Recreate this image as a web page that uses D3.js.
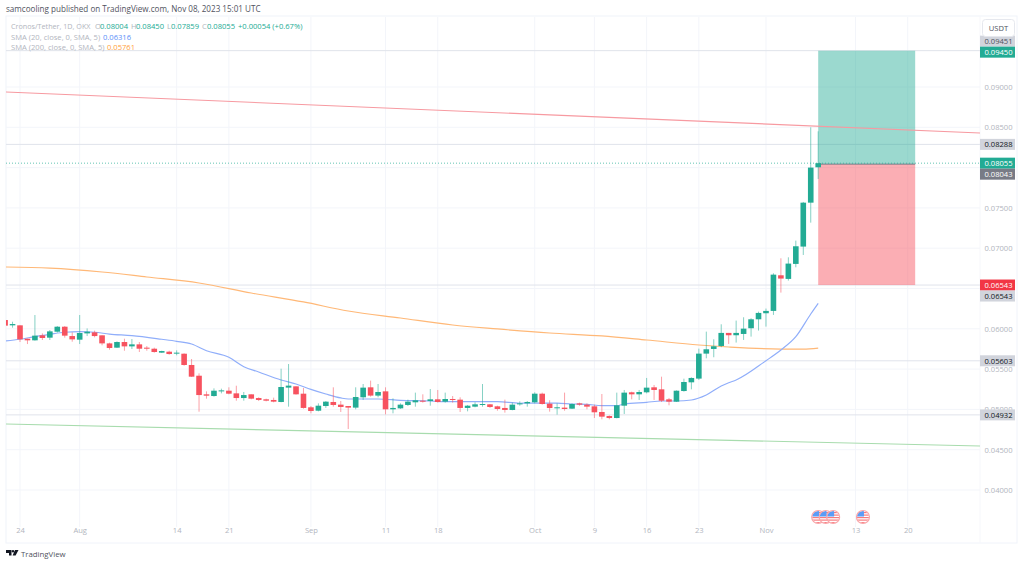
<!DOCTYPE html>
<html>
<head>
<meta charset="utf-8">
<script src="https://d3js.org/d3.v7.min.js"></script>
<style>
body { margin: 0; background: #fff; }
text { font-family: "Open Sans", sans-serif; }
</style>
</head>
<body>
<script>
// first candle is Jul 22 2023, one candle per day
var firstDay = new Date(Date.UTC(2023, 6, 22));

var opens = [
 .06109,.06043,.06043,.05877,.05857,.05919,.05890,.05964,.06026,.05910,
 .05865,.05943,.05956,.05919,.05819,.05766,.05836,.05782,.05807,.05766,
 .05753,.05704,.05716,.05695,.05691,.05551,.05418,.05187,.05166,.05224,
 .05232,.05199,.05141,.05187,.05141,.05125,.05117,.05092,.05270,.05286,
 .05195,.05026,.04984,.05042,.05092,.05059,.05042,.05022,.05150,.05274,
 .05171,.05224,.05001,.05013,.05055,.05088,.05108,.05104,.05125,.05096,
 .05129,.05121,.05018,.05034,.05055,.05063,.05038,.05018,.04993,.05067,
 .05075,.05088,.05195,.05071,.05017,.05022,.05009,.05075,.05059,.05038,
 .04968,.04918,.04893,.05046,.05212,.05187,.05212,.05274,.05249,.05125,
 .05096,.05228,.05336,.05382,.05692,.05750,.05787,.05949,.05920,.05936,
 .06007,.06118,.06193,.06222,.06664,.06619,.06805,.07020,.07565,.08004
];
var highs = [
 .06109,.06088,.06043,.05877,.06171,.05943,.05985,.06034,.06034,.05956,
 .06171,.06005,.05977,.05919,.05828,.05844,.05877,.05873,.05836,.05786,
 .05766,.05728,.05728,.05733,.05695,.05625,.05447,.05224,.05261,.05257,
 .05274,.05294,.05216,.05187,.05150,.05133,.05146,.05505,.05563,.05286,
 .05266,.05042,.05075,.05104,.05274,.05104,.05042,.05274,.05315,.05357,
 .05315,.05274,.05137,.05075,.05121,.05208,.05187,.05253,.05241,.05208,
 .05166,.05150,.05055,.05088,.05315,.05067,.05046,.05121,.05084,.05100,
 .05104,.05212,.05208,.05113,.05075,.05208,.05075,.05084,.05075,.05059,
 .05191,.04926,.05208,.05241,.05220,.05241,.05390,.05303,.05406,.05142,
 .05236,.05381,.05398,.05754,.05965,.05870,.06056,.05949,.06102,.06143,
 .06131,.06213,.06251,.06689,.06875,.06887,.07094,.07574,.08500,.08450
];
var lows = [
 .06039,.06014,.05836,.05811,.05853,.05861,.05861,.05952,.05890,.05840,
 .05811,.05910,.05894,.05795,.05741,.05762,.05728,.05749,.05712,.05728,
 .05704,.05700,.05679,.05671,.05542,.05402,.04972,.05133,.05158,.05199,
 .05187,.05108,.05108,.05125,.05104,.05100,.05088,.05088,.05034,.05183,
 .05009,.04951,.04976,.05018,.05034,.04968,.04757,.05001,.05117,.05158,
 .05150,.04939,.04951,.05005,.05042,.05034,.05084,.05046,.05084,.05084,
 .05084,.04968,.04976,.05026,.05034,.05018,.04984,.04960,.04989,.05046,
 .05034,.05075,.05059,.04972,.04935,.04984,.05005,.05046,.05001,.04893,
 .04877,.04877,.04889,.04943,.05125,.05117,.05199,.05117,.05092,.05051,
 .05092,.05220,.05249,.05366,.05634,.05647,.05771,.05812,.05829,.05862,
 .05903,.05978,.06027,.06172,.06449,.06598,.06763,.06916,.07317,.07859
];
var closes = [
 .06039,.06059,.05869,.05857,.05915,.05886,.05968,.06026,.05915,.05869,
 .05948,.05964,.05910,.05819,.05762,.05836,.05782,.05807,.05753,.05753,
 .05712,.05724,.05687,.05704,.05551,.05406,.05178,.05170,.05232,.05236,
 .05195,.05141,.05178,.05133,.05117,.05108,.05096,.05278,.05295,.05187,
 .05018,.04980,.05046,.05096,.05055,.05030,.05022,.05154,.05270,.05171,
 .05216,.05001,.05018,.05059,.05096,.05113,.05096,.05125,.05092,.05129,
 .05117,.05018,.05046,.05063,.05067,.05030,.05005,.04993,.05059,.05075,
 .05092,.05195,.05067,.05017,.05026,.05005,.05067,.05059,.05034,.04964,
 .04910,.04893,.05051,.05208,.05187,.05216,.05270,.05241,.05108,.05096,
 .05232,.05340,.05390,.05692,.05746,.05783,.05949,.05920,.05949,.06002,
 .06118,.06197,.06222,.06672,.06623,.06809,.07024,.07565,.08000,.08055
];

// SMA values at these candle indexes (0 = Jul 22)
var sma20Index = [0,2,4,6,8,10,12,14,17,21,23,25,27,30,32,34,37,39,41,43,45,46,48,50,53,57,59,63,66,69,70,74,76,78,80,82,83,86,88,90,92,94,96,97,98,102,104,106,108,109];
var sma20Values = [.05849,.05870,.05904,.05932,.05957,.05964,.05957,.05935,.05915,.05870,.05845,.05811,.05728,.05646,.05530,.05464,.05365,.05315,.05249,.05191,.05142,.05129,.05129,.05129,.05113,.05104,.05096,.05096,.05096,.05076,.05079,.05079,.05067,.05063,.05046,.05046,.05067,.05088,.05104,.05104,.05117,.05179,.05290,.05331,.05365,.05604,.05737,.05902,.06184,.06316];
var sma200Index = [0,6,13,19,26,33,40,46,53,60,66,73,80,86,93,97,104,107,109];
var sma200Values = [.06767,.06754,.06705,.06643,.06568,.06444,.06333,.06221,.06134,.06047,.05998,.05948,.05911,.05861,.05799,.05774,.05749,.05749,.05761];

// trend lines (drawn price at left and right chart edge)
var redTrend = [.08938, .08429];
var greenTrend = [.04819, .04546];

// long position tool
var targetPrice = 0.0945, entryPrice = 0.08043, stopPrice = 0.06543;
var positionEnd = new Date(Date.UTC(2023, 10, 21));
var positionStart = new Date(Date.UTC(2023, 10, 8));

var levelPrices = [0.09451, 0.08288, 0.06543, 0.05603, 0.04932];
var priceTicks = [0.09, 0.085, 0.08, 0.075, 0.07, 0.065, 0.06, 0.055, 0.05, 0.045, 0.04];
// 0.08 and 0.065 sit fully under the price labels, so only their grid lines show
var priceTickLabels = [0.09, 0.085, 0.075, 0.07, 0.06, 0.055, 0.05, 0.045, 0.04];

var timeTicks = ["2023-07-24","2023-08-01","2023-08-14","2023-08-21","2023-09-01","2023-09-11","2023-09-18","2023-10-01","2023-10-09","2023-10-16","2023-10-23","2023-11-01","2023-11-13","2023-11-20"];
var timeLabels = ["24","Aug","14","21","Sep","11","18","Oct","9","16","23","Nov","13","20"];
var eventDays = ["2023-11-08","2023-11-09","2023-11-10","2023-11-14"];

var upColor = "#22ab94", downColor = "#f7525f", gridColor = "#f3f5fa", levelColor = "#e0e3eb", axisText = "#b2b5be";

var w = 1024, h = 565;
var left = 6, right = 980, top_ = 17, paneBottom = 527, frameBottom = 543, frameRight = 1017;

var x = d3.scaleUtc()
    .domain([new Date(Date.UTC(2023, 6, 24)), new Date(Date.UTC(2023, 10, 13))])
    .range([20, 855.5]);
var y = d3.scaleLinear()
    .domain([0.04, 0.09])
    .range([490, 87]);

var day = function(i) { return d3.utcDay.offset(firstDay, i); };
var parse = d3.utcParse("%Y-%m-%d");

var svg = d3.select("body").append("svg")
    .attr("width", w)
    .attr("height", h)
    .style("display", "block");

svg.append("clipPath").attr("id", "pane")
  .append("rect").attr("x", left).attr("y", top_).attr("width", right - left).attr("height", paneBottom - top_);

// frame
svg.append("rect").attr("x", left).attr("y", 16).attr("width", frameRight - left).attr("height", frameBottom - 16)
    .attr("fill", "none").attr("stroke", "#f0f3fa");
svg.append("line").attr("x1", right).attr("x2", right).attr("y1", 16).attr("y2", frameBottom).attr("stroke", "#f6f7fb");

var pane = svg.append("g").attr("clip-path", "url(#pane)");

// grid
pane.selectAll(".vgrid").data(timeTicks).enter().append("line")
    .attr("x1", function(d) { return x(parse(d)); })
    .attr("x2", function(d) { return x(parse(d)); })
    .attr("y1", top_).attr("y2", paneBottom)
    .attr("stroke", gridColor);
pane.selectAll(".hgrid").data(priceTicks).enter().append("line")
    .attr("x1", left).attr("x2", right)
    .attr("y1", function(d) { return y(d); })
    .attr("y2", function(d) { return y(d); })
    .attr("stroke", gridColor);

// horizontal levels
pane.selectAll(".level").data(levelPrices).enter().append("line")
    .attr("x1", left).attr("x2", right)
    .attr("y1", function(d) { return y(d); })
    .attr("y2", function(d) { return y(d); })
    .attr("stroke", levelColor);

// position box
pane.append("rect").attr("x", x(positionStart)).attr("width", x(positionEnd) - x(positionStart))
    .attr("y", y(targetPrice)).attr("height", y(entryPrice) - y(targetPrice))
    .attr("fill", "#22ab94").attr("fill-opacity", 0.45);
pane.append("rect").attr("x", x(positionStart)).attr("width", x(positionEnd) - x(positionStart))
    .attr("y", y(entryPrice)).attr("height", y(stopPrice) - y(entryPrice))
    .attr("fill", "#f7525f").attr("fill-opacity", 0.47);
pane.append("line").attr("x1", x(positionStart)).attr("x2", x(positionEnd))
    .attr("y1", y(entryPrice)).attr("y2", y(entryPrice))
    .attr("stroke", "#787b86").attr("stroke-width", 1);

// trend lines
var edgeX = [left, right];
var trend = d3.line().x(function(d, i) { return edgeX[i]; }).y(function(d) { return y(d); });
pane.append("path").attr("d", trend(redTrend)).attr("fill", "none").attr("stroke", "#f79aa1").attr("stroke-width", 1.1);
pane.append("path").attr("d", trend(greenTrend)).attr("fill", "none").attr("stroke", "#a8dcae").attr("stroke-width", 1.1);

// moving averages
var sma = d3.line().curve(d3.curveMonotoneX)
    .x(function(d) { return x(day(d[0])); })
    .y(function(d) { return y(d[1]); });
pane.append("path").attr("d", sma(d3.zip(sma200Index, sma200Values)))
    .attr("fill", "none").attr("stroke", "#ffb877").attr("stroke-width", 1.2);
pane.append("path").attr("d", sma(d3.zip(sma20Index, sma20Values)))
    .attr("fill", "none").attr("stroke", "#90aefa").attr("stroke-width", 1.2);

// last price line
pane.append("line").attr("x1", left).attr("x2", right)
    .attr("y1", y(closes[closes.length - 1])).attr("y2", y(closes[closes.length - 1]))
    .attr("stroke", upColor).attr("stroke-opacity", 0.7).attr("stroke-dasharray", "1 2");

// candles
var candles = pane.selectAll(".candle").data(opens).enter().append("g");
candles.append("line")
    .attr("x1", function(d, i) { return x(day(i)); })
    .attr("x2", function(d, i) { return x(day(i)); })
    .attr("y1", function(d, i) { return y(highs[i]); })
    .attr("y2", function(d, i) { return y(lows[i]); })
    .attr("stroke", function(d, i) { return closes[i] >= d ? upColor : downColor; })
    .attr("stroke-opacity", 0.55)
    .attr("stroke-width", 1);
candles.append("rect")
    .attr("x", function(d, i) { return x(day(i)) - 2.8; })
    .attr("width", 5.6)
    .attr("y", function(d, i) { return y(Math.max(d, closes[i])); })
    .attr("height", function(d, i) { return Math.max(1, Math.abs(y(d) - y(closes[i]))); })
    .attr("fill", function(d, i) { return closes[i] >= d ? upColor : downColor; });

// event flags
var flags = pane.selectAll(".flag").data(eventDays).enter().append("g")
    .attr("transform", function(d) { return "translate(" + x(parse(d)) + ",517)"; });
flags.each(function(d, i) {
    var g = d3.select(this);
    svg.append("clipPath").attr("id", "flag" + i).append("circle").attr("r", 6);
    var inner = g.append("g").attr("clip-path", "url(#flag" + i + ")");
    inner.append("rect").attr("x", -7).attr("y", -7).attr("width", 14).attr("height", 14).attr("fill", "#fff");
    [-5, -2.5, 0, 2.5, 5].forEach(function(s) {
        inner.append("rect").attr("x", -7).attr("y", s).attr("width", 14).attr("height", 1.2).attr("fill", "#f77c80");
    });
    inner.append("rect").attr("x", -7).attr("y", -7).attr("width", 8).attr("height", 6.5).attr("fill", "#5b9cf6");
    g.append("circle").attr("r", 6.5).attr("fill", "none").attr("stroke", "#f9a5a8").attr("stroke-width", 1.2);
});

// axes
var yAxis = d3.axisRight(y).tickValues(priceTickLabels).tickFormat(d3.format(".5f")).tickSize(0);
var yG = svg.append("g").attr("transform", "translate(" + right + ",0)").call(yAxis);
yG.select(".domain").remove();
yG.selectAll("text").attr("x", 18.5).attr("text-anchor", "middle").attr("font-size", 7.6)
    .attr("font-family", null).attr("fill", axisText);

var xAxis = d3.axisBottom(x)
    .tickValues(timeTicks.map(function(d) { return parse(d); }))
    .tickFormat(function(d, i) { return timeLabels[i]; })
    .tickSize(0);
var xG = svg.append("g").attr("transform", "translate(0," + 525 + ")").call(xAxis);
xG.select(".domain").remove();
xG.selectAll("text").attr("font-size", 7.6).attr("font-family", null).attr("fill", axisText);

// price labels on the axis, later ones in a clash are pushed one slot down
var labelPrices = [0.09451, 0.0945, 0.08288, 0.08055, 0.08043, 0.06543, 0.06543, 0.05603, 0.04932];
var labelFill = ["#d1d4dc", upColor, "#d1d4dc", upColor, "#787b86", "#f23645", "#d1d4dc", "#d1d4dc", "#d1d4dc"];
var labelText = ["#50535e", "#fff", "#131722", "#fff", "#fff", "#fff", "#131722", "#131722", "#131722"];
var slotH = 11, lastY = -100;
var labelY = labelPrices.map(function(p, i) {
    var c = y(p);
    if (i == 0) c = c - 9.5;      // hidden behind the target label
    else if (c < lastY + slotH) c = lastY + slotH;
    lastY = c;
    return c;
});
var labels = svg.selectAll(".plabel").data(labelPrices).enter().append("g");
labels.append("rect")
    .attr("x", right).attr("width", 35)
    .attr("y", function(d, i) { return labelY[i] - slotH / 2; })
    .attr("height", slotH)
    .attr("fill", function(d, i) { return labelFill[i]; });
labels.append("text")
    .attr("x", right + 18.5)
    .attr("y", function(d, i) { return labelY[i] + 2.8; })
    .attr("text-anchor", "middle").attr("font-size", 7.6)
    .attr("fill", function(d, i) { return labelText[i]; })
    .text(function(d) { return d3.format(".5f")(d); });

// USDT button
svg.append("rect").attr("x", 982.5).attr("y", 19.5).attr("width", 32).attr("height", 17).attr("rx", 3)
    .attr("fill", "#fff").attr("stroke", "#e6e8ee");
svg.append("text").attr("x", 998.5).attr("y", 31).attr("text-anchor", "middle").attr("font-size", 7.6)
    .attr("fill", "#50535e").text("USDT");

// header + legend
svg.append("text").attr("x", 6).attr("y", 12).attr("font-size", 8.1).attr("fill", "#50535e")
    .text("samcooling published on TradingView.com, Nov 08, 2023 15:01 UTC");

var legendGrey = "#b2b5be";
var legendItems = [
    ["Cronos/Tether, 1D, OKX", 11, 29, legendGrey, 7.2],
    ["O", 95, 29, legendGrey, 7.6], ["0.08004", 100, 29, upColor, 7.6],
    ["H", 131, 29, legendGrey, 7.6], ["0.08450", 136, 29, upColor, 7.6],
    ["L", 167, 29, legendGrey, 7.6], ["0.07859", 171, 29, upColor, 7.6],
    ["C", 202, 29, legendGrey, 7.6], ["0.08055", 207, 29, upColor, 7.6],
    ["+0.00054 (+0.67%)", 238, 29, upColor, 7.6],
    ["SMA (20, close, 0, SMA, 5)", 11, 39.5, legendGrey, 7.6], ["0.06316", 103, 39.5, "#5b8ff9", 7.6],
    ["SMA (200, close, 0, SMA, 5)", 11, 50, legendGrey, 7.6], ["0.05761", 107, 50, "#ff9f40", 7.6]
];
svg.selectAll(".legend").data(legendItems).enter().append("text")
    .attr("x", function(d) { return d[1]; })
    .attr("y", function(d) { return d[2]; })
    .attr("font-size", function(d) { return d[4]; })
    .attr("fill", function(d) { return d[3]; })
    .text(function(d) { return d[0]; });

// TradingView logo
var logo = svg.append("g").attr("transform", "translate(6,550)").attr("fill", "#131722");
logo.append("path").attr("d", "M0 0H5.5V5.5H3V3H0Z");
logo.append("circle").attr("cx", 7).attr("cy", 1.2).attr("r", 1.2);
logo.append("path").attr("d", "M9 0H12.5L9.6 5.5H6.6Z");
svg.append("text").attr("x", 21).attr("y", 557).attr("font-size", 7.8).attr("fill", "#50535e").text("TradingView");
</script>
</body>
</html>
